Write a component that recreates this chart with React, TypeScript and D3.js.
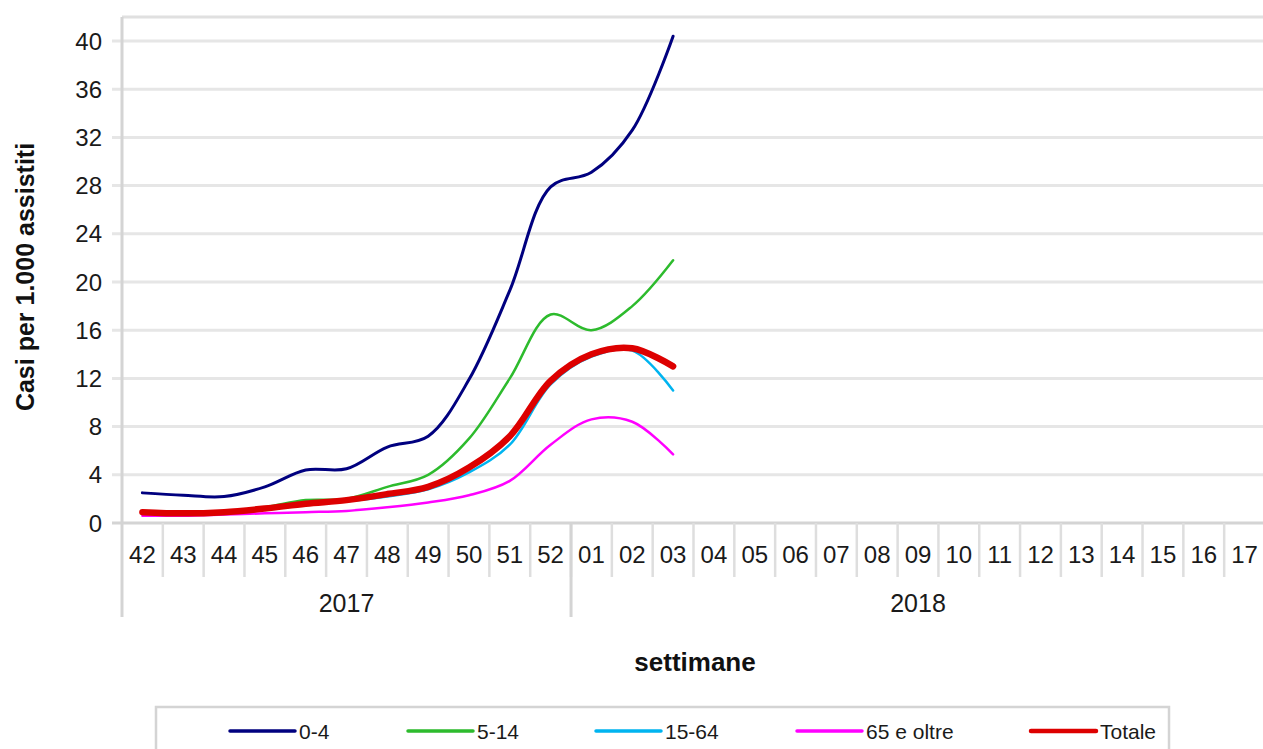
import { useEffect, useRef } from "react";
import * as d3 from "d3";

const weeks2017 = ["42", "43", "44", "45", "46", "47", "48", "49", "50", "51", "52"];
const weeks2018 = ["01", "02", "03", "04", "05", "06", "07", "08", "09", "10", "11", "12", "13", "14", "15", "16", "17"];
const years = ["2017", "2018"];
const yTicks = [0, 4, 8, 12, 16, 20, 24, 28, 32, 36, 40];

// values per week (only 42..03 available)
const age0to4 = [2.5, 2.3, 2.2, 3.0, 4.4, 4.5, 6.3, 7.2, 11.9, 19.3, 27.9, 29.1, 32.6, 40.4];
const age5to14 = [0.9, 0.8, 0.9, 1.3, 1.9, 2.0, 3.0, 4.0, 7.0, 12.0, 17.3, 16.0, 18.0, 21.8];
const age15to64 = [0.8, 0.7, 0.8, 1.1, 1.5, 1.8, 2.2, 2.8, 4.2, 6.5, 11.5, 13.8, 14.3, 11.0];
const age65plus = [0.6, 0.6, 0.7, 0.8, 0.9, 1.0, 1.3, 1.7, 2.3, 3.5, 6.5, 8.6, 8.4, 5.7];
const totale = [0.9, 0.8, 0.9, 1.2, 1.6, 1.9, 2.4, 3.0, 4.6, 7.2, 11.8, 14.0, 14.5, 13.0];

const seriesNames = ["0-4", "5-14", "15-64", "65 e oltre", "Totale"];
const seriesColors = ["#00007f", "#2dbb2d", "#00b4f0", "#ff00ff", "#dd0000"];
const seriesWidths = [3, 2.5, 2.5, 2.5, 6.5];

const App = () => {
  const ref = useRef<SVGSVGElement | null>(null);

  useEffect(() => {
    document.body.style.margin = "0";
    const svg = d3.select(ref.current);
    svg.selectAll("*").remove();

    const font = "'Liberation Sans', Arial, sans-serif";
    const margin = { left: 122, top: 17, right: 1265, bottom: 523 };
    const cats = [...weeks2017, ...weeks2018];

    const x = d3.scaleBand().domain(cats).range([margin.left, margin.right]);
    const y = d3.scaleLinear().domain([0, 40]).range([margin.bottom, 41]);

    // gridlines
    svg.append("g")
      .selectAll("line")
      .data(yTicks)
      .enter().append("line")
      .attr("x1", 112)
      .attr("x2", 1263)
      .attr("y1", d => y(d))
      .attr("y2", d => y(d))
      .attr("stroke", d => d === 0 ? "#d4d4d4" : "#e6e6e6")
      .attr("stroke-width", 3);

    // top border
    svg.append("line")
      .attr("x1", margin.left).attr("x2", 1263)
      .attr("y1", margin.top).attr("y2", margin.top)
      .attr("stroke", "#e0e0e0").attr("stroke-width", 3);

    // y tick labels
    svg.append("g")
      .selectAll("text")
      .data(yTicks)
      .enter().append("text")
      .attr("x", 102)
      .attr("y", d => y(d))
      .attr("dy", "0.36em")
      .attr("text-anchor", "end")
      .attr("font-family", font)
      .attr("font-size", "24px")
      .attr("fill", "#1a1a1a")
      .text(d => d);

    // category separators
    svg.append("g")
      .selectAll("line")
      .data(cats.slice(1))
      .enter().append("line")
      .attr("x1", d => x(d)!)
      .attr("x2", d => x(d)!)
      .attr("y1", margin.bottom)
      .attr("y2", 577)
      .attr("stroke", "#dedede")
      .attr("stroke-width", 2.5);

    // year separators
    const yearBounds = [cats[0], weeks2018[0]];
    svg.append("g")
      .selectAll("line")
      .data(yearBounds)
      .enter().append("line")
      .attr("x1", d => x(d)!)
      .attr("x2", d => x(d)!)
      .attr("y1", margin.bottom)
      .attr("y2", 617)
      .attr("stroke", "#d4d4d4")
      .attr("stroke-width", 3);

    // left axis
    svg.append("line")
      .attr("x1", margin.left).attr("x2", margin.left)
      .attr("y1", margin.top).attr("y2", margin.bottom)
      .attr("stroke", "#d4d4d4").attr("stroke-width", 3);

    // category labels
    svg.append("g")
      .selectAll("text")
      .data(cats)
      .enter().append("text")
      .attr("x", d => x(d)! + x.bandwidth() / 2)
      .attr("y", 563)
      .attr("text-anchor", "middle")
      .attr("font-family", font)
      .attr("font-size", "24px")
      .attr("fill", "#1a1a1a")
      .text(d => d);

    // year labels
    const yearGroups = [weeks2017, weeks2018];
    svg.append("g")
      .selectAll("text")
      .data(years)
      .enter().append("text")
      .attr("x", (d, i) => {
        const g = yearGroups[i];
        return (x(g[0])! + x(g[g.length - 1])! + x.bandwidth()) / 2;
      })
      .attr("y", 612)
      .attr("text-anchor", "middle")
      .attr("font-family", font)
      .attr("font-size", "25px")
      .attr("fill", "#1a1a1a")
      .text(d => d);

    // axis titles
    svg.append("text")
      .attr("x", 695)
      .attr("y", 671)
      .attr("text-anchor", "middle")
      .attr("font-family", font)
      .attr("font-size", "26px")
      .attr("font-weight", "bold")
      .attr("fill", "#111")
      .text("settimane");

    svg.append("text")
      .attr("transform", "translate(34, 277) rotate(-90)")
      .attr("text-anchor", "middle")
      .attr("font-family", font)
      .attr("font-size", "25px")
      .attr("font-weight", "bold")
      .attr("fill", "#111")
      .text("Casi per 1.000 assistiti");

    // series
    const allSeries = [age0to4, age5to14, age15to64, age65plus, totale];
    const line = d3.line<number>()
      .x((d, i) => x(cats[i])! + x.bandwidth() / 2)
      .y(d => y(d))
      .curve(d3.curveCatmullRom.alpha(0.5));

    allSeries.forEach((s, i) => {
      svg.append("path")
        .datum(s)
        .attr("d", line)
        .attr("fill", "none")
        .attr("stroke", seriesColors[i])
        .attr("stroke-width", seriesWidths[i])
        .attr("stroke-linecap", "round")
        .attr("stroke-linejoin", "round");
    });

    // legend
    svg.append("rect")
      .attr("x", 156)
      .attr("y", 707)
      .attr("width", 1013)
      .attr("height", 60)
      .attr("fill", "#fff")
      .attr("stroke", "#d4d4d4")
      .attr("stroke-width", 2.5);

    const legendX = [230, 408, 596, 797, 1031];
    const legendY = 731;
    seriesNames.forEach((name, i) => {
      svg.append("line")
        .attr("x1", legendX[i])
        .attr("x2", legendX[i] + 65)
        .attr("y1", legendY)
        .attr("y2", legendY)
        .attr("stroke", seriesColors[i])
        .attr("stroke-width", i === 4 ? 4.5 : 3.5)
        .attr("stroke-linecap", "round");
      svg.append("text")
        .attr("x", legendX[i] + 69)
        .attr("y", legendY)
        .attr("dy", "0.36em")
        .attr("font-family", font)
        .attr("font-size", "21px")
        .attr("fill", "#1a1a1a")
        .text(name);
    });
  }, []);

  return <svg ref={ref} width={1263} height={749} style={{ display: "block" }} />;
};

export default App;
